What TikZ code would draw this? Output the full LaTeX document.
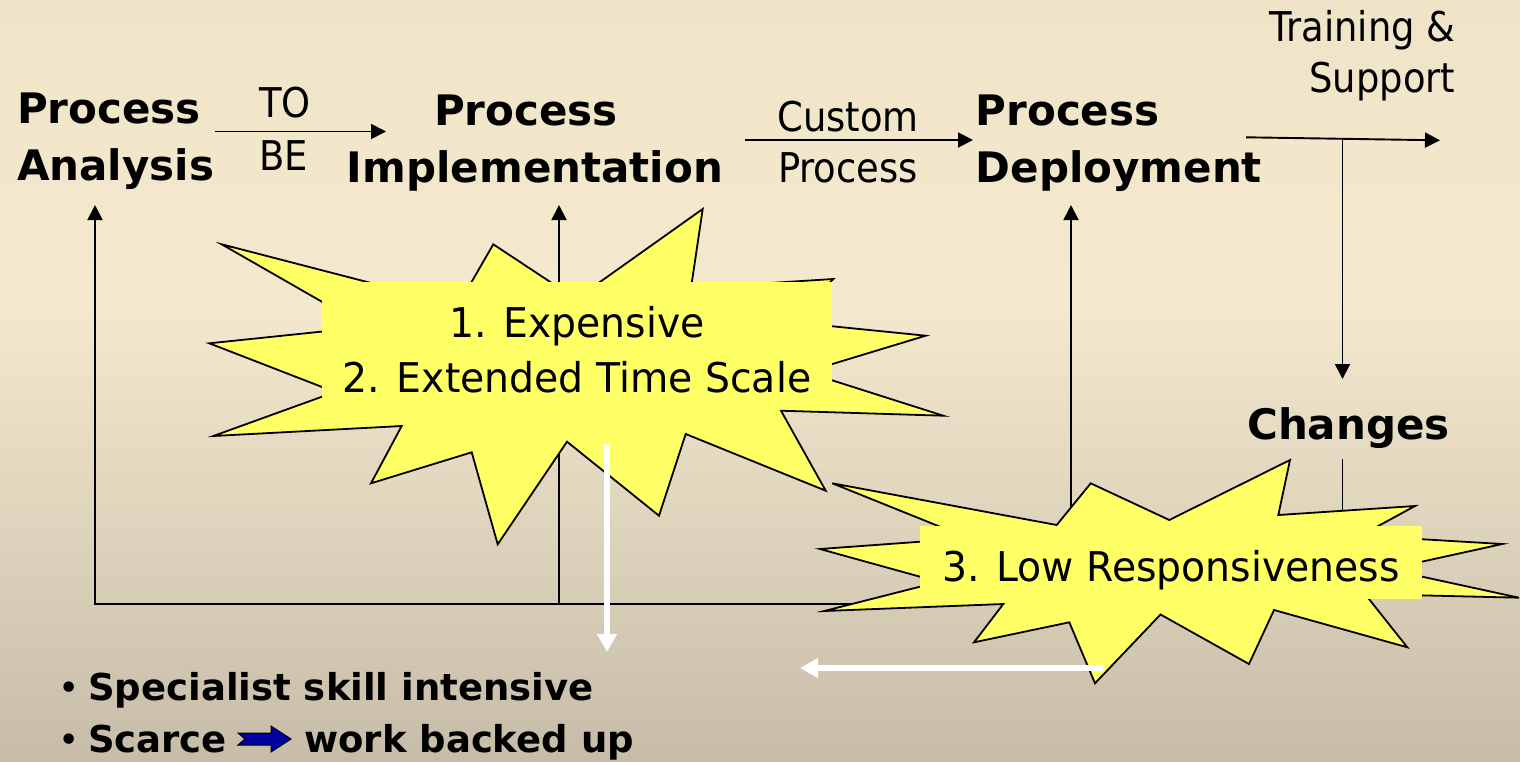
\documentclass[tikz,border=0pt]{standalone}
\usepackage{fontspec}
\setmainfont{DejaVu Sans}
\newfontfamily\lblfont{DejaVu Sans}[FakeStretch=0.9]
\newfontfamily\burstfont{DejaVu Sans}[FakeStretch=0.96]
\usetikzlibrary{arrows.meta}

\definecolor{bgtop}{RGB}{240,228,200}
\definecolor{bgmid}{RGB}{244,233,206}
\definecolor{bgbot}{RGB}{199,188,168}
\definecolor{burst}{RGB}{255,255,102}
\definecolor{navy}{RGB}{0,0,160}

\pgfdeclareverticalshading{bgshade}{100bp}{color(0bp)=(bgbot); color(25bp)=(bgbot); color(55bp)=(bgmid); color(75bp)=(bgtop); color(100bp)=(bgtop)}

\tikzset{
  flow/.style={draw=black, line width=1.9pt},
  flowarrow/.style={flow, -{Triangle[length=15pt,width=15pt]}},
  burstshape/.style={fill=burst, draw=black, line width=1.8pt, line join=miter},
  whitearrow/.style={draw=white, line width=6pt, -{Triangle[length=18pt,width=19pt]}},
  boldlabel/.style={inner sep=0pt, font=\fontsize{42}{50}\selectfont\bfseries},
  armlabel/.style={inner sep=0pt, font=\fontsize{41}{50}\selectfont\lblfont},
  burstlabel/.style={inner sep=0pt, font=\fontsize{41}{50}\selectfont\burstfont},
  bulletlabel/.style={inner sep=0pt, font=\fontsize{37}{45}\selectfont\bfseries},
  bulletdot/.style={inner sep=0pt, font=\fontsize{36}{42}\selectfont},
}

\begin{document}
\begin{tikzpicture}[x=1pt,y=-1pt]
\useasboundingbox (0,0) rectangle (1520,761);
\shade[shading=bgshade] (0,0) rectangle (1520,761);

% stage labels
\node[boldlabel, anchor=base west] (pa1) at (17,123) {Process};
\node[boldlabel, anchor=base west] (pa2) at (17,180) {Analysis};
\node[boldlabel, anchor=base] (pi1) at (526,125) {Process};
\node[boldlabel, anchor=base] (pi2) at (535,182) {Implementation};
\node[boldlabel, anchor=base west] (pd1) at (975.5,125) {Process};
\node[boldlabel, anchor=base west] (pd2) at (975.5,182) {Deployment};
\node[boldlabel, anchor=base west] (ch) at (1247,439) {Changes};

% arrow labels
\node[armlabel, anchor=base west] (to) at (259,117) {TO};
\node[armlabel, anchor=base west] (be) at (259,170) {BE};
\node[armlabel, anchor=base] (cu) at (848,131) {Custom};
\node[armlabel, anchor=base] (cp) at (848,182) {Process};
\node[armlabel, anchor=base east] (tr) at (1455.5,41) {Training \&};
\node[armlabel, anchor=base east] (su) at (1455.5,92) {Support};

% connector end points
\coordinate (tbS) at (215,131.5);
\coordinate (tbE) at (386,131.5);
\coordinate (cpS) at (745,140);
\coordinate (cpE) at (973,140);
\coordinate (tsS) at (1246,137.3);
\coordinate (tsE) at (1440,140.3);
\coordinate (tsJ) at (1342.5,139);
\coordinate (chT) at (1342.5,379);
\coordinate (chB) at (1342.5,459);
\coordinate (loopR) at (1342.5,604);
\coordinate (loopL) at (95,604);
\coordinate (paT) at (95,205);
\coordinate (jI) at (559,604);
\coordinate (piT) at (559,205);
\coordinate (jD) at (1071,604);
\coordinate (pdT) at (1071,205);

% forward flow
\draw[flowarrow] (tbS) -- (tbE);
\draw[flowarrow] (cpS) -- (cpE);
\draw[flowarrow] (tsS) -- (tsE);
\draw[flowarrow] (tsJ) -- (chT);

% feedback loop
\draw[flowarrow] (chB) -- (loopR) -- (loopL) -- (paT);
\draw[flowarrow] (jI) -- (piT);
\draw[flowarrow] (jD) -- (pdT);

% first burst
\draw[burstshape] (209.3,343.3) -- (366,327) -- (221.7,244.3) -- (458,305.5)
  -- (493.3,244.3) -- (576,299) -- (702.7,209) -- (691,288) -- (833.3,279)
  -- (790,322) -- (925.7,335.7) -- (806,372) -- (943.3,415.7) -- (781,410.7)
  -- (825.7,490.7) -- (685.7,434) -- (659,515.7) -- (567,441.7) -- (497.7,544.3)
  -- (471.7,452.3) -- (371,483.3) -- (401.7,426) -- (213.3,436) -- (335,392) -- cycle;
\fill[burst] (321.7,281.7) rectangle (831.7,405);
\node[burstlabel, anchor=base] (b1a) at (577,337) {1. Expensive};
\node[burstlabel, anchor=base] (b1b) at (577,392) {2. Extended Time Scale};

% second burst
\draw[burstshape] (832.3,483.3) -- (1056.7,525) -- (1090.7,483.3) -- (1169.3,520)
  -- (1290,460) -- (1278.3,515) -- (1415,506) -- (1360.6,535.6) -- (1502.3,544)
  -- (1387.6,569.2) -- (1519,597.7) -- (1365,594) -- (1407.3,647.3) -- (1274,610)
  -- (1249,664) -- (1160.5,614.5) -- (1095,683.3) -- (1069.3,622.3) -- (974,642.3)
  -- (1003.3,604) -- (824.3,611) -- (938.8,581.9) -- (820,549) -- (968.5,538.2) -- cycle;
\fill[burst] (920,526) rectangle (1422,599.3);
\node[burstlabel, anchor=base] (b3) at (1171,581) {3. Low Responsiveness};

% consequences
\coordinate (w1S) at (607,444);
\coordinate (w1E) at (607,652);
\coordinate (w2S) at (1103,668);
\coordinate (w2E) at (800,668);
\draw[whitearrow] (w1S) -- (w1E);
\draw[whitearrow] (w2S) -- (w2E);

\node[bulletdot, anchor=base west] (d1) at (58,700) {•};
\node[bulletlabel, anchor=base west] (l1) at (88,700) {Specialist skill intensive};
\node[bulletdot, anchor=base west] (d2) at (58,752) {•};
\node[bulletlabel, anchor=base west] (l2a) at (88,752) {Scarce};
\node[bulletlabel, anchor=base west] (l2b) at (304,752) {work backed up};
\draw[fill=navy, draw=black, line width=1pt, line join=miter]
  (238,733) -- (271,733) -- (271,726) -- (291,739) -- (271,752) -- (271,745)
  -- (238,745) -- (245,739) -- cycle;
\end{tikzpicture}
\end{document}
